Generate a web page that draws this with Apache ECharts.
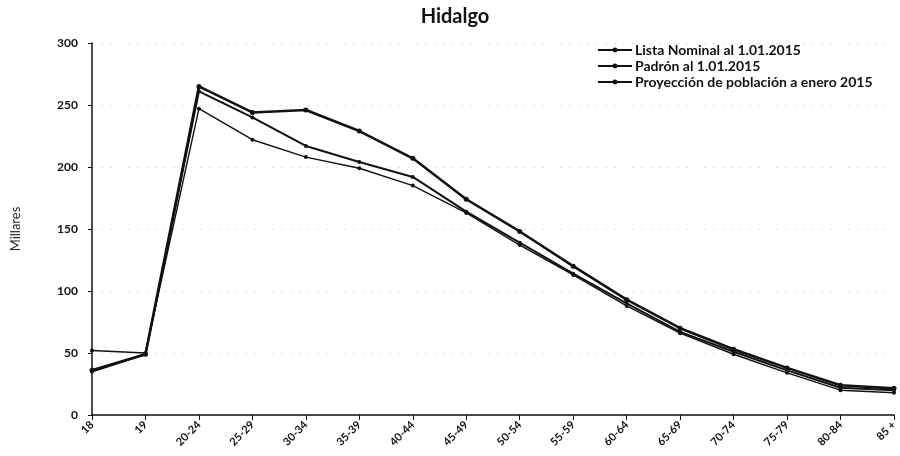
<!DOCTYPE html>
<html>
<head>
<meta charset="utf-8">
<script src="https://cdn.jsdelivr.net/npm/echarts@6/dist/echarts.min.js"></script>
<style>
  html, body { margin: 0; padding: 0; background: #fff; }
  #chart { width: 900px; height: 456px; }
</style>
</head>
<body>
<div id="chart"></div>
<script>
// Age groups (thousands of people per group)
const categories = ['18', '19', '20-24', '25-29', '30-34', '35-39', '40-44', '45-49',
  '50-54', '55-59', '60-64', '65-69', '70-74', '75-79', '80-84', '85 +'];

const listaNominal = [35, 49, 261, 240, 217, 204, 192, 164, 139, 114, 90, 67, 51, 36, 22, 20];
const padron = [36, 49, 265, 244, 246, 229, 207, 174, 148, 120, 93, 70, 53, 38, 24, 21.5];
const proyeccion = [52, 50, 247, 222, 208, 199, 185, 163, 137, 113, 88, 66, 49, 34, 20, 18];

const yTicks = [0, 50, 100, 150, 200, 250, 300];

const seriesNames = ['Lista Nominal al 1.01.2015', 'Padrón al 1.01.2015', 'Proyección de población a enero 2015'];

const font = 'Lato, "Open Sans", sans-serif';

const chart = echarts.init(document.getElementById('chart'), null, { renderer: 'canvas' });

function lineSeries(name, data, width, sym) {
  return {
    name: name,
    type: 'line',
    data: data,
    symbol: 'circle',
    symbolSize: sym,
    showSymbol: true,
    lineStyle: { color: '#111', width: width },
    itemStyle: { color: '#111' },
    emphasis: { disabled: true },
    animation: false
  };
}

chart.setOption({
  backgroundColor: '#fff',
  title: {
    text: 'Hidalgo',
    left: 450,
    textAlign: 'center',
    top: 2,
    textStyle: { fontFamily: font, fontWeight: 'bold', fontSize: 20, color: '#111' }
  },
  legend: {
    orient: 'vertical',
    left: 597,
    top: 42,
    padding: 0,
    itemGap: 0,
    itemWidth: 34,
    itemHeight: 6,
    textStyle: { fontFamily: font, fontSize: 14, lineHeight: 16, color: '#111', fontWeight: 'bold', padding: [0, 0, 0, -2] },
    data: seriesNames
  },
  grid: { left: 92, right: 2, top: 43, bottom: 41 },
  xAxis: {
    type: 'category',
    data: categories,
    boundaryGap: false,
    axisLine: { lineStyle: { color: '#111', width: 1.5 } },
    axisTick: { show: true, length: 5, lineStyle: { color: '#111' } },
    axisLabel: {
      rotate: 45,
      interval: 0,
      fontFamily: font,
      fontSize: 11,
      fontWeight: 'bold',
      color: '#111',
      margin: 8
    }
  },
  yAxis: {
    type: 'value',
    min: yTicks[0],
    max: yTicks[yTicks.length - 1],
    interval: 50,
    name: 'Millares',
    nameLocation: 'middle',
    nameGap: 70,
    nameRotate: 90,
    nameTextStyle: { fontFamily: font, fontSize: 13, color: '#222' },
    axisLine: { show: true, lineStyle: { color: '#111', width: 1.5 } },
    axisTick: { show: true, length: 4, lineStyle: { color: '#111' } },
    axisLabel: { fontFamily: font, fontSize: 12, fontWeight: 'bold', color: '#111', margin: 14 },
    splitLine: { show: true, lineStyle: { color: '#e2e2e2', type: [2, 7], width: 1 } }
  },
  series: [
    lineSeries(seriesNames[0], listaNominal, 2, 4),
    lineSeries(seriesNames[1], padron, 2.6, 5),
    lineSeries(seriesNames[2], proyeccion, 1.4, 4)
  ]
});
</script>
</body>
</html>
